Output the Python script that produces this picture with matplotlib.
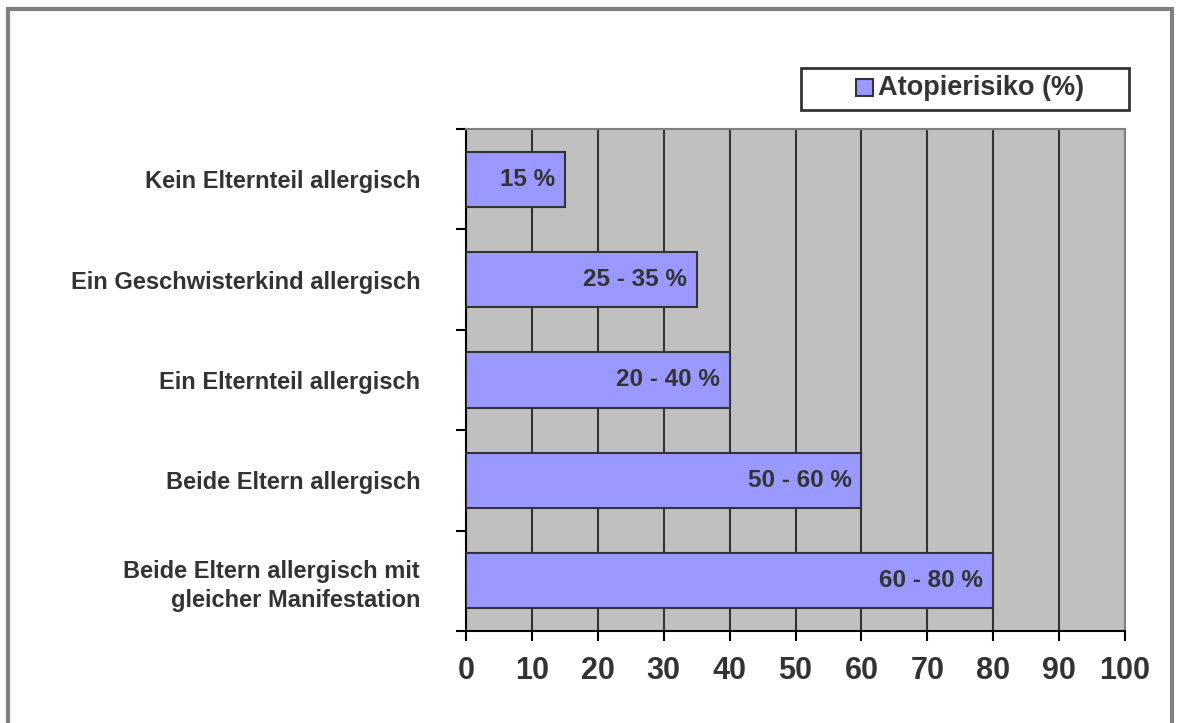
import matplotlib.pyplot as plt
from matplotlib.patches import Rectangle

# Daten
kategorien = ['Beide Eltern allergisch mit\ngleicher Manifestation',
              'Beide Eltern allergisch',
              'Ein Elternteil allergisch',
              'Ein Geschwisterkind allergisch',
              'Kein Elternteil allergisch']
werte = [80, 60, 40, 35, 15]
beschriftung = ['60 - 80 %', '50 - 60 %', '20 - 40 %', '25 - 35 %', '15 %']
x_ticks = [0, 10, 20, 30, 40, 50, 60, 70, 80, 90, 100]
legenden_text = 'Atopierisiko (%)'

textfarbe = '#333333'
balkenfarbe = '#9999FF'
plt.rcParams['font.family'] = ['Liberation Sans', 'DejaVu Sans']

W, H = 1181, 723
fig = plt.figure(figsize=(W / 100, H / 100), dpi=100)
# grauer Rahmen um die ganze Grafik
fig.patches.append(Rectangle((8 / W, -0.05), (1172 - 8) / W, 1.05 - 9 / H,
                             transform=fig.transFigure, fill=False,
                             edgecolor='#808080', linewidth=3))

ax = fig.add_axes([466 / W, 92 / H, (1125 - 466) / W, (631 - 129) / H])
ax.set_facecolor('#C0C0C0')

y = list(range(len(kategorien)))
bars = ax.barh(y, werte, height=0.55, color=balkenfarbe, edgecolor='#333333',
               linewidth=1.5, zorder=3)

for yi, w, txt in zip(y, werte, beschriftung):
    ax.annotate(txt, (w, yi), xytext=(-10, 0), textcoords='offset pixels',
                ha='right', va='center', fontsize=17.5, fontweight='bold',
                color=textfarbe, zorder=4)

ax.set_xlim(0, 100)
ax.set_ylim(-0.5, len(kategorien) - 0.5)
ax.set_xticks(x_ticks)
ax.set_xticklabels([str(t) for t in x_ticks], fontsize=22, fontweight='bold', color=textfarbe)
ax.xaxis.grid(True, color='#333333', linewidth=1.5, zorder=1)
ax.set_axisbelow(True)

ax.set_yticks(y)
ax.set_yticklabels(kategorien, fontsize=17, fontweight='bold', color=textfarbe,
                   multialignment='right', linespacing=1.3)
ax.set_yticks([i - 0.5 for i in range(len(kategorien) + 1)], minor=True)
ax.tick_params(axis='y', which='major', length=0, pad=33)
ax.tick_params(axis='y', which='minor', length=7, width=1.5, color='black')
ax.tick_params(axis='x', which='major', length=7, width=1.5, color='black', pad=11)

ax.spines['left'].set_color('black')
ax.spines['left'].set_linewidth(1.5)
ax.spines['bottom'].set_color('black')
ax.spines['bottom'].set_linewidth(1.5)
ax.spines['top'].set_color('#808080')
ax.spines['top'].set_linewidth(1.5)
ax.spines['right'].set_color('#808080')
ax.spines['right'].set_linewidth(1.5)

# Legende als Kasten mit Farbquadrat und Text
fig.patches.append(Rectangle((801 / W, 1 - 110 / H), (1129 - 801) / W, 42 / H,
                             transform=fig.transFigure, facecolor='white',
                             edgecolor='#333333', linewidth=2))
fig.patches.append(Rectangle((856 / W, 1 - 96 / H), 17 / W, 17 / H,
                             transform=fig.transFigure, facecolor=balkenfarbe,
                             edgecolor='#333333', linewidth=1.5))
fig.text(878 / W, 1 - 88 / H, legenden_text, fontsize=19.5, fontweight='bold',
         color=textfarbe, ha='left', va='center')

fig.savefig('out.png', dpi=100)
